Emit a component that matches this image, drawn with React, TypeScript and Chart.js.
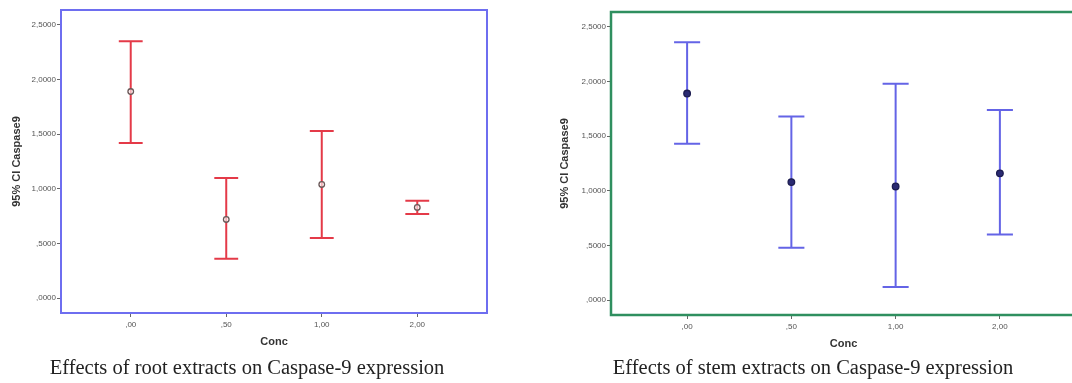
import React, { useEffect, useRef } from "react";
import { Chart, registerables } from "chart.js";

Chart.register(...registerables);

// ---- data ----
const concIndex = [0, 1, 2, 3];
const concLabels = [",00", ",50", "1,00", "2,00"];
const yTickValues = [0, 0.5, 1, 1.5, 2, 2.5];
const yTickLabels = [",0000", ",5000", "1,0000", "1,5000", "2,0000", "2,5000"];

const rootMean = [1.89, 0.72, 1.04, 0.83];
const rootLower = [1.42, 0.36, 0.55, 0.77];
const rootUpper = [2.35, 1.1, 1.53, 0.89];

const stemMean = [1.89, 1.08, 1.04, 1.16];
const stemLower = [1.43, 0.48, 0.12, 0.6];
const stemUpper = [2.36, 1.68, 1.98, 1.74];

const yTitle = "95% CI Caspase9";
const xTitle = "Conc";
const rootCaption = "Effects of root extracts on Caspase-9 expression";
const stemCaption = "Effects of stem extracts on Caspase-9 expression";

// ---- helpers ----
const CAP_HALF = 0.125;

function whiskerPoints(lower: number[], upper: number[]) {
  const pts: { x: number; y: number | null }[] = [];
  concIndex.forEach((x, i) => {
    pts.push({ x, y: lower[i] }, { x, y: upper[i] }, { x, y: null });
    pts.push({ x: x - CAP_HALF, y: upper[i] }, { x: x + CAP_HALF, y: upper[i] }, { x, y: null });
    pts.push({ x: x - CAP_HALF, y: lower[i] }, { x: x + CAP_HALF, y: lower[i] }, { x, y: null });
  });
  return pts;
}

const boxPlugin = {
  id: "box",
  beforeDatasetsDraw(chart: any, _args: any, opts: any) {
    const { ctx, chartArea } = chart;
    const { left, top, right, bottom } = chartArea;
    ctx.save();
    ctx.strokeStyle = opts.color;
    ctx.lineWidth = opts.width;
    ctx.strokeRect(left, top, right - left, bottom - top);
    ctx.restore();
  },
};

const FONT = "Arial, 'Liberation Sans', sans-serif";

interface PanelProps {
  left: number;
  width: number;
  mean: number[];
  lower: number[];
  upper: number[];
  lineColor: string;
  pointFill: string;
  pointBorder: string;
  pointRadius: number;
  boxColor: string;
  boxWidth: number;
  yAxisWidth: number;
  yTitlePad: number;
  padding: { left: number; top: number; right: number; bottom: number };
}

function Panel(p: PanelProps) {
  const ref = useRef<HTMLCanvasElement>(null);
  useEffect(() => {
    if (!ref.current) return;
    const chart = new Chart(ref.current, {
      type: "scatter",
      data: {
        datasets: [
          {
            label: "mean",
            data: concIndex.map((x, i) => ({ x, y: p.mean[i] })),
            pointRadius: p.pointRadius,
            pointBackgroundColor: p.pointFill,
            pointBorderColor: p.pointBorder,
            pointBorderWidth: 1.3,
            showLine: false,
          },
          {
            label: "CI",
            data: whiskerPoints(p.lower, p.upper),
            showLine: true,
            spanGaps: false,
            pointRadius: 0,
            borderColor: p.lineColor,
            borderWidth: 2,
            fill: false,
          },
        ],
      } as any,
      options: {
        animation: false,
        responsive: false,
        maintainAspectRatio: false,
        layout: { padding: p.padding },
        plugins: {
          legend: { display: false },
          tooltip: { enabled: false },
          box: { color: p.boxColor, width: p.boxWidth },
        } as any,
        scales: {
          x: {
            type: "linear",
            min: -0.73,
            max: 3.73,
            afterBuildTicks: (scale: any) => {
              scale.ticks = concIndex.map((v) => ({ value: v }));
            },
            afterFit: (scale: any) => {
              scale.height = 37;
            },
            ticks: {
              autoSkip: false,
              maxRotation: 0,
              padding: 3,
              color: "#555",
              font: { family: FONT, size: 8 },
              callback: (v: any) => {
                const i = concIndex.indexOf(Number(v));
                return i >= 0 ? concLabels[i] : "";
              },
            },
            grid: { drawOnChartArea: false, drawTicks: true, tickLength: 4, color: "#666", lineWidth: 1 },
            border: { display: false },
            title: {
              display: true,
              text: xTitle,
              color: "#333",
              font: { family: FONT, size: 11, weight: "bold" },
              padding: { top: 0, bottom: 1 },
            },
          },
          y: {
            type: "linear",
            min: -0.136,
            max: 2.636,
            afterBuildTicks: (scale: any) => {
              scale.ticks = yTickValues.map((v) => ({ value: v }));
            },
            afterFit: (scale: any) => {
              scale.width = p.yAxisWidth;
            },
            ticks: {
              autoSkip: false,
              padding: 1,
              color: "#555",
              font: { family: FONT, size: 8 },
              callback: (v: any) => {
                const i = yTickValues.indexOf(Number(v));
                return i >= 0 ? yTickLabels[i] : "";
              },
            },
            grid: { drawOnChartArea: false, drawTicks: true, tickLength: 4, color: "#666", lineWidth: 1 },
            border: { display: false },
            title: {
              display: true,
              text: yTitle,
              color: "#333",
              font: { family: FONT, size: 11, weight: "bold" },
              padding: { top: p.yTitlePad, bottom: 0 },
            },
          },
        },
      } as any,
      plugins: [boxPlugin as any],
    });
    return () => chart.destroy();
  }, []);
  return (
    <canvas
      ref={ref}
      width={p.width}
      height={383}
      style={{ position: "absolute", left: p.left, top: 0, width: p.width, height: 383 }}
    />
  );
}

const captionStyle: React.CSSProperties = {
  position: "absolute",
  top: 354,
  fontFamily: "'Liberation Serif', 'Times New Roman', serif",
  fontSize: 20.5,
  color: "#222",
  whiteSpace: "nowrap",
  transform: "translateX(-50%)",
  lineHeight: "26px",
};

export default function App() {
  return (
    <div
      style={{
        position: "fixed",
        left: 0,
        top: 0,
        width: 1072,
        height: 383,
        overflow: "hidden",
        background: "#fff",
      }}
    >
      <Panel
        left={0}
        width={530}
        mean={rootMean}
        lower={rootLower}
        upper={rootUpper}
        lineColor="#e43a48"
        pointFill="rgba(255,255,255,0.6)"
        pointBorder="#6a5858"
        pointRadius={2.8}
        boxColor="#6e6ef0"
        boxWidth={2}
        yAxisWidth={61}
        yTitlePad={10}
        padding={{ left: 0, top: 10, right: 43, bottom: 33 }}
      />
      <Panel
        left={530}
        width={560}
        mean={stemMean}
        lower={stemLower}
        upper={stemUpper}
        lineColor="#6464e6"
        pointFill="#2a2a72"
        pointBorder="#1c1c50"
        pointRadius={3.3}
        boxColor="#2f8f5f"
        boxWidth={2.5}
        yAxisWidth={81}
        yTitlePad={28}
        padding={{ left: 0, top: 12, right: 14, bottom: 31 }}
      />
      <div style={{ ...captionStyle, left: 247 }}>{rootCaption}</div>
      <div style={{ ...captionStyle, left: 813 }}>{stemCaption}</div>
    </div>
  );
}
